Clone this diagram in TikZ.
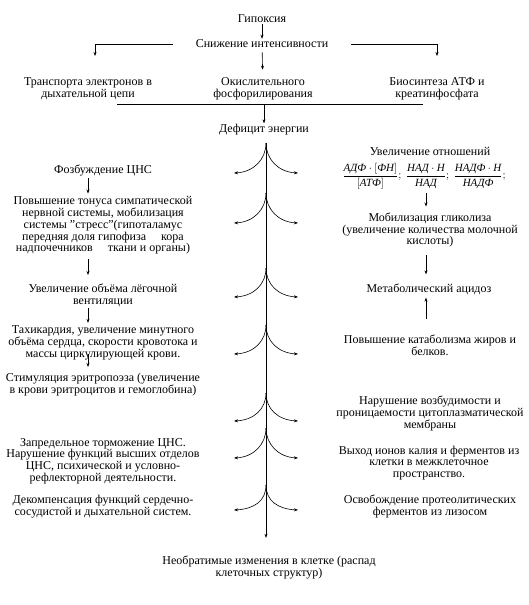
\documentclass[tikz,border=0pt]{standalone}
\usepackage{fontspec}
\usepackage{amsmath}
\setmainfont{Liberation Serif}
\usetikzlibrary{arrows.meta}
\begin{document}
\begin{tikzpicture}[x=1pt,y=-1pt,
  txt/.style={align=center,inner sep=1pt,font=\fontsize{12}{11.7}\selectfont},
  arr/.style={-{Stealth[length=4pt,width=3pt]},line width=0.6pt},
  ln/.style={line width=0.6pt},
  every node/.style={txt}]
\useasboundingbox (0,0) rectangle (528,605);
% top part
\node (hyp) at (262,19) {Гипоксия};
\node (sniz) at (262,44) {Снижение интенсивности};
\node (tr) at (88,89) {Транспорта электронов в\\дыхательной цепи};
\node (ok) at (263,89) {Окислительного\\фосфорилирования};
\node (bio) at (437,89) {Биосинтеза АТФ и\\креатинфосфата};
\node (def) at (264,130) {Дефицит энергии};
\coordinate (tl) at (95,56);
\coordinate (trr) at (437,56);
\coordinate (hl) at (117,104);
\coordinate (hr) at (423,104);
\draw[arr] (hyp) -- (sniz);
\draw[arr] ([xshift=-22pt]sniz.west) -| (tl);
\draw[arr] ([xshift=22pt]sniz.east) -| (trr);
\draw[arr,shorten <=3pt,shorten >=7pt] (sniz) -- (ok);
\draw[ln] (hl) -- (hr);
\draw[arr] (hl -| def) -- (def);
% left column
\node (voz) at (103,170) {Фозбуждение ЦНС};
\node (pov) at (103,225.5) {Повышение тонуса симпатической\\нервной системы, мобилизация\\системы "стресс"(гипоталамус\\передняя доля гипофиза\quad\ кора\\надпочечников\quad\ ткани и органы)};
\node (uvel) at (103,295.5) {Увеличение объёма лёгочной\\вентиляции};
\node (tah) at (103,343) {Тахикардия, увеличение минутного\\объёма сердца, скорости кровотока и\\массы циркулирующей крови.};
\node (stim) at (103,384.5) {Стимуляция эритропоэза (увеличение\\в крови эритроцитов и гемоглобина)};
\node (zapr) at (103,461) {Запредельное торможение ЦНС.\\Нарушение функций высших отделов\\ЦНС, психической и условно-\\рефлекторной деятельности.};
\node (dek) at (103,506.5) {Декомпенсация функций сердечно-\\сосудистой и дыхательной систем.};
\draw[arr,shorten <=1pt,shorten >=2pt] ([xshift=-15pt]voz.south) -- ([xshift=-15pt]pov.north);
\draw[arr,shorten <=4pt,shorten >=8pt] ([xshift=-15pt]pov.south) -- ([xshift=-15pt]uvel.north);
\draw[arr,shorten >=2pt] ([xshift=-15pt]uvel.south) -- ([xshift=-15pt]tah.north);
\draw[arr,shorten <=-7pt,shorten >=5pt] ([xshift=-15pt]tah.south) -- ([xshift=-15pt]stim.north);
% right column
\node (rat) at (430,151) {Увеличение отношений};
\node[font=\fontsize{11}{12}\selectfont] (frac) at (424,176) {$\dfrac{\textit{АДФ}\cdot\left[\textit{ФН}\right]}{\left[\textit{АТФ}\right]};\ \dfrac{\textit{НАД}\cdot\textit{Н}}{\textit{НАД}};\ \dfrac{\textit{НАДФ}\cdot\textit{Н}}{\textit{НАДФ}};$};
\node (mob) at (430,230) {Мобилизация гликолиза\\(увеличение количества молочной\\кислоты)};
\node (met) at (429,289) {Метаболический ацидоз};
\node (kat) at (430,345.5) {Повышение катаболизма жиров и\\белков.};
\node (nar) at (430,413.5) {Нарушение возбудимости и\\проницаемости цитоплазматической\\мембраны};
\node (vyh) at (429,463) {Выход ионов калия и ферментов из\\клетки в межклеточное\\пространство.};
\node (osv) at (430,506.5) {Освобождение протеолитических\\ферментов из лизосом};
\draw[arr,shorten <=3pt,shorten >=5pt] (frac.south -| 426,0) -- (mob.north -| 426,0);
\draw[arr,shorten <=7pt,shorten >=8pt] (mob.south -| 426,0) -- (met.north -| 426,0);
\draw[arr,shorten <=15pt,shorten >=2pt] (kat.north -| 426,0) -- (met.south -| 426,0);
% bottom
\node (neo) at (269,567.5) {Необратимые изменения в клетке (распад\\клеточных структур)};
% central trunk
\coordinate (c0) at (266,143);
\draw[arr,shorten >=17pt] (c0) -- (neo.north -| c0);
\foreach \ya/\yb in {143/173,193/223,268/297,325/354,393/421,428/458,485/510}{
  \draw[arr] (266,\ya) .. controls (266,\ya+16) and (254,\yb-1) .. (234,\yb);
  \draw[arr] (266,\ya) .. controls (266,\ya+16) and (278,\yb-1) .. (298,\yb);
}
\end{tikzpicture}
\end{document}
